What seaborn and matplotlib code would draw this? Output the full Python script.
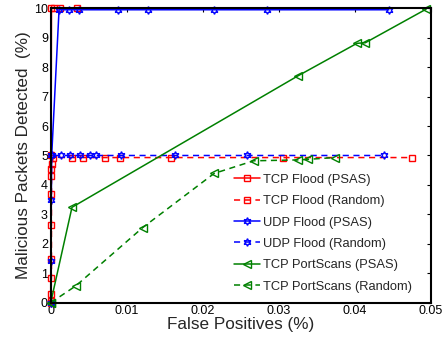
import numpy as np
import pandas as pd
import matplotlib
matplotlib.use("Agg")
import matplotlib.pyplot as plt
import seaborn as sns

# ---- data ----
tcp_psas_x = [0.0, 0.00005, 0.0001, 0.0005, 0.0012, 0.0035]
tcp_psas_y = [0.0, 5.0, 10.0, 10.0, 10.0, 10.0]

tcp_rand_x = [0.0, 0.00005, 0.0001, 0.0001, 0.0001, 0.0001, 0.0001, 0.0001, 0.0002, 0.0003,
              0.0028, 0.0043, 0.0072, 0.0091, 0.0158, 0.0306, 0.0475]
tcp_rand_y = [0.05, 0.3, 0.85, 1.5, 2.65, 3.7, 4.3, 4.55, 4.7, 4.93,
              4.93, 4.93, 4.93, 4.93, 4.93, 4.93, 4.93]

udp_psas_x = [0.0, 0.00005, 0.00008, 0.00013, 0.0011, 0.0024, 0.0037, 0.0088, 0.0128,
              0.0215, 0.0285, 0.0445]
udp_psas_y = [0.0, 1.4, 3.5, 5.0, 9.95, 9.95, 9.95, 9.95, 9.95, 9.95, 9.95, 9.95]

udp_rand_x = [0.0, 0.0001, 0.0014, 0.0026, 0.0039, 0.0052, 0.006, 0.0093, 0.0164, 0.0258, 0.0439]
udp_rand_y = [0.0, 5.0, 5.0, 5.0, 5.0, 5.0, 5.0, 5.0, 5.0, 5.0, 5.0]

ps_psas_x = [0.0, 0.0028, 0.0325, 0.0403, 0.0414, 0.0494]
ps_psas_y = [0.0, 3.24, 7.7, 8.81, 8.83, 9.97]

ps_rand_x = [0.0, 0.0033, 0.0121, 0.0215, 0.0267, 0.0326, 0.0339, 0.0374]
ps_rand_y = [0.0, 0.57, 2.55, 4.39, 4.82, 4.85, 4.87, 4.93]

labels = ["TCP Flood (PSAS)", "TCP Flood (Random)", "UDP Flood (PSAS)",
          "UDP Flood (Random)", "TCP PortScans (PSAS)", "TCP PortScans (Random)"]
x_ticks = [0, 0.01, 0.02, 0.03, 0.04, 0.05]
x_ticklabels = ["0", "0.01", "0.02", "0.03", "0.04", "0.05"]
y_ticks = list(range(0, 11))

sns.set_style("white")
plt.rcParams['font.family'] = ['Liberation Sans', 'DejaVu Sans']

fig = plt.figure(figsize=(4.42, 3.41), dpi=100)
ax = fig.add_axes([0.1147, 0.1123, 0.8597, 0.8634])

star = (6, 1, 0)
series = [
    (tcp_psas_x, tcp_psas_y, labels[0], "#ff0000", "-", "s", 4.5),
    (tcp_rand_x, tcp_rand_y, labels[1], "#ff0000", (0, (4, 3)), "s", 4.5),
    (udp_psas_x, udp_psas_y, labels[2], "#0000ff", "-", star, 5.5),
    (udp_rand_x, udp_rand_y, labels[3], "#0000ff", (0, (4, 3)), star, 5.5),
    (ps_psas_x, ps_psas_y, labels[4], "#008000", "-", "<", 5.5),
    (ps_rand_x, ps_rand_y, labels[5], "#008000", (0, (4, 3)), "<", 5.5),
]

for xs, ys, lab, col, ls, mk, ms in series:
    df = pd.DataFrame({"x": xs, "y": ys})
    sns.lineplot(data=df, x="x", y="y", ax=ax, sort=False, estimator=None,
                 color=col, linestyle=ls, linewidth=1.1, marker=mk,
                 markersize=ms, markerfacecolor="none", markeredgecolor=col,
                 markeredgewidth=1.0, label=lab, clip_on=False)

ax.set_xlim(0, 0.05)
ax.set_ylim(0, 10)
ax.set_xticks(x_ticks)
ax.set_xticklabels(x_ticklabels)
ax.set_yticks(y_ticks)
ax.tick_params(direction="in", length=3, width=0.8, top=True, right=True,
               labelsize=9, pad=2, colors="black")
for s in ax.spines.values():
    s.set_color("black")
    s.set_linewidth(1.5)
ax.set_xlabel("False Positives (%)", fontsize=12.3, labelpad=0)
ax.set_ylabel("Malicious Packets Detected  (%)", fontsize=12.3, labelpad=2)

leg = ax.legend(loc="upper left", bbox_to_anchor=(0.47, 0.455), frameon=False,
                fontsize=9.3, handlelength=2.0, handletextpad=0.2,
                labelspacing=0.72, borderaxespad=0)

fig.savefig("out.png", dpi=100)
